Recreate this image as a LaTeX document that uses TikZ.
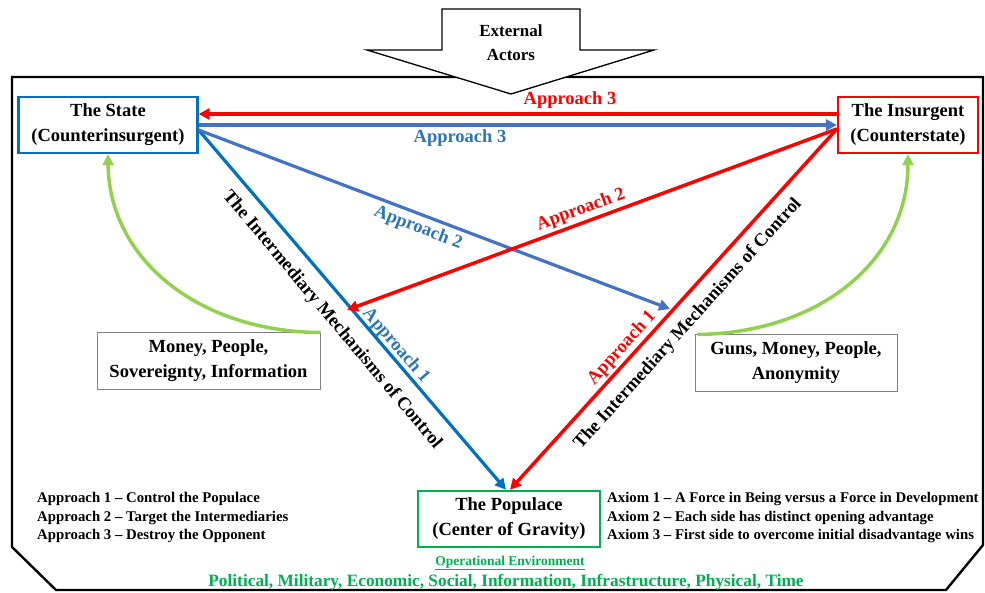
\documentclass[tikz,border=0pt]{standalone}
\usepackage{fontspec}
\setmainfont{Liberation Serif}
\usetikzlibrary{arrows.meta}
\definecolor{cred}{HTML}{FF0000}
\definecolor{cblue}{HTML}{0070C0}
\definecolor{csteel}{HTML}{4472C4}
\definecolor{clab}{HTML}{2E75B6}
\definecolor{cgreen}{HTML}{00B050}
\definecolor{clime}{HTML}{92D050}
\begin{document}
\begin{tikzpicture}[x=1pt,y=-1pt,
  big/.style={font=\fontsize{18.5}{25}\selectfont\bfseries},
  small/.style={font=\fontsize{14.8}{18}\selectfont\bfseries},
  box/.style={draw, fill=white, inner sep=0pt, align=center, big, minimum height=56pt},
  tip/.style={-{Triangle[length=11pt,width=11pt]}},
  redln/.style={tip, draw=cred, line width=3.5pt},
  blueln/.style={tip, draw=cblue, line width=3.2pt},
  steelln/.style={tip, draw=csteel, line width=3.2pt},
  greenln/.style={tip, draw=clime, line width=3.5pt},
  lab/.style={big, inner sep=0pt}
]
\useasboundingbox (0,0) rectangle (985,593);
% frame
\draw[line width=2.4pt, line join=miter] (12,77) -- (983,77) -- (983,545) -- (946,590) -- (56,590) -- (12,547) -- cycle;
% external actors block arrow
\draw[line width=1.3pt, fill=white, line join=miter] (442,9) -- (580,9) -- (580,50) -- (654,50) -- (511,94) -- (367,50) -- (442,50) -- cycle;
\node[big, align=center, font=\fontsize{17}{24}\selectfont\bfseries] (ext) at (511,43) {External\\Actors};

% boxes
\node[box, draw=cblue, line width=2.2pt, minimum width=179pt] (state) at (108,125) {The State\\(Counterinsurgent)};
\node[box, draw=cred, line width=2.2pt, minimum width=140pt] (insurgent) at (908,125) {The Insurgent\\(Counterstate)};
\node[box, draw=cgreen, line width=2.5pt, minimum width=182pt] (populace) at (509,519) {The Populace\\(Center of Gravity)};
\node[box, draw=gray, line width=1pt, minimum width=223pt] (money) at (208.5,361) {Money, People,\\Sovereignty, Information};
\node[box, draw=gray, line width=1pt, minimum width=202pt] (guns) at (796,363) {Guns, Money, People,\\Anonymity};

\coordinate (tipB) at (670,309);
\coordinate (tipR) at (347,310);

% blue arrows
\draw[steelln] (state.east) -- (insurgent.west);
\draw[blueln] ([yshift=-5pt]state.east) -- ([xshift=-3pt]populace.north);
\draw[steelln] ([yshift=-5pt]state.east) -- (tipB);
% red arrows
\draw[redln] ([yshift=11pt]insurgent.west) -- ([yshift=11pt]state.east);
\draw[redln] ([yshift=-4pt]insurgent.west) -- ([xshift=1pt]populace.north);
\draw[redln] ([yshift=-4pt]insurgent.west) -- (tipR);

% green curves
\draw[greenln] (money.north east) .. controls (200,332) and (109,260) .. (state.south);
\draw[greenln] ([xshift=3pt]guns.north west) .. controls (820,333) and (908,260) .. (insurgent.south);

% labels
\node[lab, text=cred] (l3r) at (570,100) {Approach 3};
\node[lab, text=clab] (l3b) at (460,138) {Approach 3};
\node[lab, text=clab, rotate=-21] (l2b) at (418,228) {Approach 2};
\node[lab, text=cred, rotate=20] (l2r) at (581,210) {Approach 2};
\node[lab, text=clab, rotate=-49] (l1b) at (396,346) {Approach 1};
\node[lab, text=cred, rotate=48] (l1r) at (622,348) {Approach 1};
\node[lab, rotate=-50] (iml) at (332,320) {The Intermediary Mechanisms of Control};
\node[lab, rotate=48] (imr) at (688,324) {The Intermediary Mechanisms of Control};

% legends
\node[small, anchor=west, inner sep=0pt] (a1) at (37,499) {Approach 1 – Control the Populace};
\node[small, anchor=west, inner sep=0pt] (a2) at (37,517.5) {Approach 2 – Target the Intermediaries};
\node[small, anchor=west, inner sep=0pt] (a3) at (37,536) {Approach 3 – Destroy the Opponent};
\node[small, anchor=west, inner sep=0pt] (x1) at (607,499) {Axiom 1 – A Force in Being versus a Force in Development};
\node[small, anchor=west, inner sep=0pt] (x2) at (607,517.5) {Axiom 2 – Each side has distinct opening advantage};
\node[small, anchor=west, inner sep=0pt] (x3) at (607,536) {Axiom 3 – First side to overcome initial disadvantage wins};

\node[text=cgreen, inner sep=0pt, font=\fontsize{13.5}{16}\selectfont\bfseries] (oe) at (510,563) {\underline{Operational Environment}};
\node[text=cgreen, inner sep=0pt, font=\fontsize{17.3}{20}\selectfont\bfseries] (pm) at (506,582) {Political, Military, Economic, Social, Information, Infrastructure, Physical, Time};
\end{tikzpicture}
\end{document}
